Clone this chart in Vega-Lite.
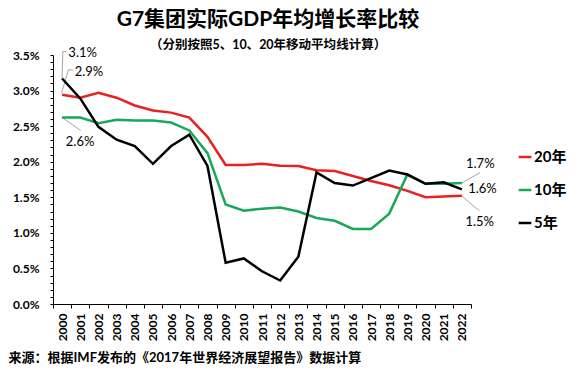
{
  "$schema": "https://vega.github.io/schema/vega-lite/v6.json",
  "width": 418,
  "height": 249,
  "autosize": {"type": "none"},
  "padding": {"left": 53, "top": 55, "right": 110, "bottom": 68},
  "background": "white",
  "config": {
    "view": {"stroke": null},
    "font": "Lato, Noto Sans CJK SC, sans-serif"
  },
  "title": {
    "text": "G7集团实际GDP年均增长率比较",
    "subtitle": "（分别按照5、10、20年移动平均线计算）",
    "anchor": "middle",
    "frame": "group",
    "dx": 6,
    "font": "Lato, Noto Sans CJK SC",
    "fontSize": 21,
    "fontWeight": "bold",
    "color": "#000000",
    "subtitleFont": "Lato, Noto Sans CJK SC",
    "subtitleFontSize": 12.5,
    "subtitleFontWeight": "bold",
    "subtitleColor": "#000000",
    "subtitlePadding": 9,
    "offset": -5
  },
  "datasets": {
    "main": [
      {"year": 2000, "series": "20年", "value": 0.0294},
      {"year": 2001, "series": "20年", "value": 0.0290},
      {"year": 2002, "series": "20年", "value": 0.0297},
      {"year": 2003, "series": "20年", "value": 0.0290},
      {"year": 2004, "series": "20年", "value": 0.0279},
      {"year": 2005, "series": "20年", "value": 0.0272},
      {"year": 2006, "series": "20年", "value": 0.0269},
      {"year": 2007, "series": "20年", "value": 0.0262},
      {"year": 2008, "series": "20年", "value": 0.0235},
      {"year": 2009, "series": "20年", "value": 0.01955},
      {"year": 2010, "series": "20年", "value": 0.01955},
      {"year": 2011, "series": "20年", "value": 0.0197},
      {"year": 2012, "series": "20年", "value": 0.01945},
      {"year": 2013, "series": "20年", "value": 0.0194},
      {"year": 2014, "series": "20年", "value": 0.0188},
      {"year": 2015, "series": "20年", "value": 0.0187},
      {"year": 2016, "series": "20年", "value": 0.0180},
      {"year": 2017, "series": "20年", "value": 0.0173},
      {"year": 2018, "series": "20年", "value": 0.0167},
      {"year": 2019, "series": "20年", "value": 0.0159},
      {"year": 2020, "series": "20年", "value": 0.0150},
      {"year": 2021, "series": "20年", "value": 0.0151},
      {"year": 2022, "series": "20年", "value": 0.0152},
      {"year": 2000, "series": "10年", "value": 0.0262},
      {"year": 2001, "series": "10年", "value": 0.0262},
      {"year": 2002, "series": "10年", "value": 0.0254},
      {"year": 2003, "series": "10年", "value": 0.0259},
      {"year": 2004, "series": "10年", "value": 0.0258},
      {"year": 2005, "series": "10年", "value": 0.0258},
      {"year": 2006, "series": "10年", "value": 0.0255},
      {"year": 2007, "series": "10年", "value": 0.0244},
      {"year": 2008, "series": "10年", "value": 0.0212},
      {"year": 2009, "series": "10年", "value": 0.0140},
      {"year": 2010, "series": "10年", "value": 0.0131},
      {"year": 2011, "series": "10年", "value": 0.0134},
      {"year": 2012, "series": "10年", "value": 0.01355},
      {"year": 2013, "series": "10年", "value": 0.0130},
      {"year": 2014, "series": "10年", "value": 0.0121},
      {"year": 2015, "series": "10年", "value": 0.0117},
      {"year": 2016, "series": "10年", "value": 0.01055},
      {"year": 2017, "series": "10年", "value": 0.01055},
      {"year": 2018, "series": "10年", "value": 0.0127},
      {"year": 2019, "series": "10年", "value": 0.0182},
      {"year": 2020, "series": "10年", "value": 0.0169},
      {"year": 2021, "series": "10年", "value": 0.0169},
      {"year": 2022, "series": "10年", "value": 0.0170},
      {"year": 2000, "series": "5年", "value": 0.0317},
      {"year": 2001, "series": "5年", "value": 0.0289},
      {"year": 2002, "series": "5年", "value": 0.0249},
      {"year": 2003, "series": "5年", "value": 0.0231},
      {"year": 2004, "series": "5年", "value": 0.0222},
      {"year": 2005, "series": "5年", "value": 0.0197},
      {"year": 2006, "series": "5年", "value": 0.0222},
      {"year": 2007, "series": "5年", "value": 0.0238},
      {"year": 2008, "series": "5年", "value": 0.0194},
      {"year": 2009, "series": "5年", "value": 0.0058},
      {"year": 2010, "series": "5年", "value": 0.0064},
      {"year": 2011, "series": "5年", "value": 0.0046},
      {"year": 2012, "series": "5年", "value": 0.0033},
      {"year": 2013, "series": "5年", "value": 0.00665},
      {"year": 2014, "series": "5年", "value": 0.0185},
      {"year": 2015, "series": "5年", "value": 0.0170},
      {"year": 2016, "series": "5年", "value": 0.01665},
      {"year": 2017, "series": "5年", "value": 0.0177},
      {"year": 2018, "series": "5年", "value": 0.01875},
      {"year": 2019, "series": "5年", "value": 0.0182},
      {"year": 2020, "series": "5年", "value": 0.0169},
      {"year": 2021, "series": "5年", "value": 0.0171},
      {"year": 2022, "series": "5年", "value": 0.0161}
    ],
    "leaders": [
      {"id": "a", "ord": 1, "year": 2000.0, "value": 0.0317},
      {"id": "a", "ord": 2, "year": 2000.04, "value": 0.03548},
      {"id": "a", "ord": 3, "year": 2000.22, "value": 0.03548},
      {"id": "b", "ord": 1, "year": 1999.97, "value": 0.02963},
      {"id": "b", "ord": 2, "year": 2000.35, "value": 0.03291},
      {"id": "b", "ord": 3, "year": 2000.59, "value": 0.03291},
      {"id": "c", "ord": 1, "year": 2000.0, "value": 0.0262},
      {"id": "c", "ord": 2, "year": 2001.03, "value": 0.02438},
      {"id": "d", "ord": 1, "year": 2021.96, "value": 0.01697},
      {"id": "d", "ord": 2, "year": 2023.0, "value": 0.01846},
      {"id": "e", "ord": 1, "year": 2021.96, "value": 0.01523},
      {"id": "e", "ord": 2, "year": 2022.97, "value": 0.01308}
    ],
    "labels": [
      {"label": "3.1%", "year": 2001.13, "value": 0.0353},
      {"label": "2.9%", "year": 2001.48, "value": 0.03267},
      {"label": "2.6%", "year": 2000.99, "value": 0.02283},
      {"label": "1.7%", "year": 2023.01, "value": 0.01969},
      {"label": "1.6%", "year": 2023.13, "value": 0.01617},
      {"label": "1.5%", "year": 2022.98, "value": 0.01149}
    ]
  },
  "encoding": {
    "x": {
      "field": "year",
      "type": "quantitative",
      "scale": {"domain": [1999.5, 2022.5], "nice": false, "zero": false},
      "axis": {
        "values": [1999.5, 2000.5, 2001.5, 2002.5, 2003.5, 2004.5, 2005.5, 2006.5, 2007.5, 2008.5, 2009.5, 2010.5, 2011.5, 2012.5, 2013.5, 2014.5, 2015.5, 2016.5, 2017.5, 2018.5, 2019.5, 2020.5, 2021.5, 2022.5],
        "labelExpr": "datum.value > 2022 ? '' : format(datum.value + 0.5, 'd')",
        "labelOffset": 9.1,
        "labelAngle": -90,
        "labelAlign": "right",
        "labelBaseline": "middle",
        "labelPadding": 5,
        "labelFontSize": 12,
        "labelFontWeight": "bold",
        "labelColor": "#000000",
        "labelOverlap": false,
        "labelFlush": false,
        "labelBound": false,
        "tickSize": 4,
        "tickColor": "#000000",
        "domainColor": "#000000",
        "grid": false,
        "title": "来源：根据IMF发布的《2017年世界经济展望报告》数据计算",
        "titleAnchor": "start",
        "titleAlign": "left",
        "titleBaseline": "middle",
        "titleX": -45,
        "titleY": 53,
        "titleFontSize": 13,
        "titleFontWeight": "bold",
        "titleColor": "#000000",
        "titleFont": "Lato, Noto Sans CJK SC"
      }
    },
    "y": {
      "field": "value",
      "type": "quantitative",
      "scale": {"domain": [0, 0.035], "nice": false},
      "axis": {
        "values": [0, 0.001, 0.002, 0.003, 0.004, 0.005, 0.006, 0.007, 0.008, 0.009, 0.01, 0.011, 0.012, 0.013, 0.014, 0.015, 0.016, 0.017, 0.018, 0.019, 0.02, 0.021, 0.022, 0.023, 0.024, 0.025, 0.026, 0.027, 0.028, 0.029, 0.03, 0.031, 0.032, 0.033, 0.034, 0.035],
        "labelExpr": "round(datum.value * 1000) % 5 == 0 ? format(datum.value, '.1%') : ''",
        "labelFontSize": 12,
        "labelFontWeight": "bold",
        "labelColor": "#000000",
        "labelPadding": 11,
        "labelOverlap": false,
        "labelFlush": false,
        "tickSize": 3,
        "tickColor": "#000000",
        "domainColor": "#000000",
        "grid": false,
        "title": null
      }
    }
  },
  "layer": [
    {
      "data": {"name": "leaders"},
      "mark": {"type": "line", "color": "#a6a6a6", "strokeWidth": 1},
      "encoding": {
        "detail": {"field": "id", "type": "nominal"},
        "order": {"field": "ord", "type": "quantitative"}
      }
    },
    {
      "data": {"name": "main"},
      "mark": {"type": "line", "strokeWidth": 2.5},
      "encoding": {
        "color": {
          "field": "series",
          "type": "nominal",
          "scale": {"domain": ["20年", "10年", "5年"], "range": ["#e8201f", "#1aa85a", "#000000"]},
          "legend": {
            "orient": "none",
            "legendX": 464,
            "legendY": 94,
            "title": null,
            "padding": 0,
            "symbolType": "stroke",
            "symbolSize": 160,
            "symbolStrokeWidth": 2.5,
            "labelFontSize": 15,
            "labelFontWeight": "bold",
            "labelColor": "#000000",
            "labelOffset": 1,
            "rowPadding": 17,
            "labelFont": "Lato, Noto Sans CJK SC"
          }
        }
      }
    },
    {
      "data": {"name": "labels"},
      "mark": {"type": "text", "fontSize": 13, "color": "#000000", "align": "center", "baseline": "middle", "font": "Lato, Noto Sans CJK SC"},
      "encoding": {
        "text": {"field": "label", "type": "nominal"}
      }
    }
  ]
}
